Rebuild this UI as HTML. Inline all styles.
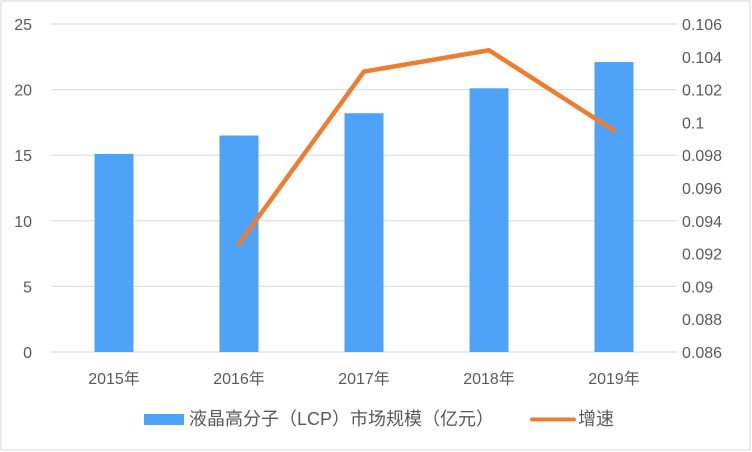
<!DOCTYPE html>
<html><head><meta charset="utf-8"><style>
html,body{margin:0;padding:0;background:#fff;}
svg{display:block;font-family:"Liberation Sans","Noto Sans CJK SC",sans-serif;}
</style></head><body>
<svg id="chart" width="752" height="452">
<rect x="1" y="1" width="749" height="449" fill="#fff" stroke="#d9d9d9"/>
<g id="grid"></g><g id="bars"></g><g id="line"></g><g id="labels"></g>
<g>
<rect x="144" y="414" width="40" height="11" fill="#4ea3f8"/>
<text x="189" y="425" font-size="18" fill="#595959">液晶高分子（LCP）市场规模（亿元）</text>
<line x1="532" y1="419.5" x2="574" y2="419.5" stroke="#ed7d31" stroke-width="4" stroke-linecap="round"/>
<text x="578" y="425" font-size="18" fill="#595959">增速</text>
</g>
</svg>
<script>
const categories=["2015年","2016年","2017年","2018年","2019年"];
const marketSize=[15.1,16.5,18.2,20.1,22.1];
const growth=[null,0.0926,0.1031,0.1044,0.0995];
const leftTicks=[0,5,10,15,20,25];
const rightTicks=["0.086","0.088","0.09","0.092","0.094","0.096","0.098","0.1","0.102","0.104","0.106"];
const NS="http://www.w3.org/2000/svg";
const L=51.5,R=676.5,T=24,B=352;
const yL=v=>B-(v/25)*(B-T);
const yR=v=>B-((v-0.086)/0.02)*(B-T);
const bw=(R-L)/categories.length;
const xC=i=>L+bw*(i+0.5);
function mk(tag,attrs,parent,text){const e=document.createElementNS(NS,tag);for(const k in attrs)e.setAttribute(k,attrs[k]);if(text!=null)e.textContent=text;document.getElementById(parent).appendChild(e);return e;}
leftTicks.forEach(t=>{
  const y=yL(t);
  const g=mk('line',{x1:L,x2:R,y1:y,y2:y,stroke:'#d9d9d9','stroke-width':1},'grid');
  
  
  const tx=mk('text',{x:32,y:y+6,'text-anchor':'end','font-size':16,fill:'#595959'},'labels',String(t));
  
  
});
rightTicks.forEach(t=>{
  const y=yR(parseFloat(t));
  const tx=mk('text',{x:682,y:y+6,'font-size':16,fill:'#595959'},'labels',t);
  
  
});
categories.forEach((c,i)=>{
  const h=B-yL(marketSize[i]);
  const r=mk('rect',{x:xC(i)-19.5,y:yL(marketSize[i]),width:39,height:h,fill:'#4ea3f8'},'bars');
  
  
  const tx=mk('text',{x:xC(i),y:384,'text-anchor':'middle','font-size':16,fill:'#595959'},'labels',c);
  
  
});
const pts=growth.map((v,i)=>v==null?null:[xC(i),yR(v)]).filter(p=>p);
const pl=mk('polyline',{points:pts.map(p=>p.join(',')).join(' '),fill:'none',stroke:'#ed7d31','stroke-width':4.5,'stroke-linejoin':'round','stroke-linecap':'round'},'line');


</script>
</body></html>
